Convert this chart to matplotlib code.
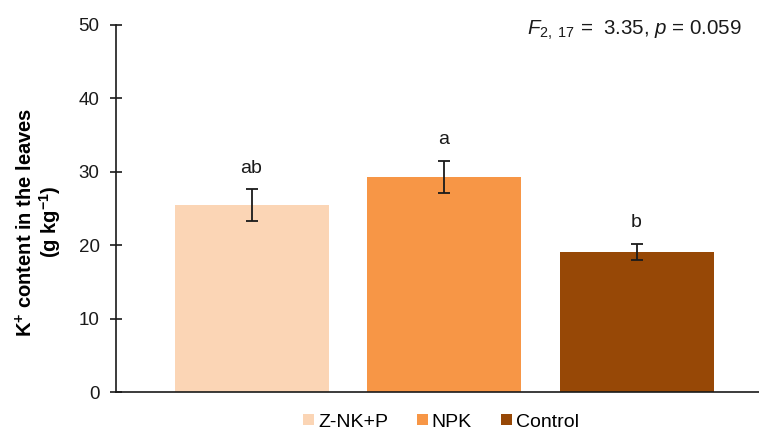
import matplotlib
matplotlib.use("Agg")
import matplotlib.pyplot as plt

plt.rcParams['font.family'] = ['Liberation Sans', 'DejaVu Sans']
plt.rcParams['mathtext.fontset'] = 'custom'
plt.rcParams['mathtext.rm'] = 'Liberation Sans'
plt.rcParams['mathtext.it'] = 'Liberation Sans:italic'
plt.rcParams['mathtext.bf'] = 'Liberation Sans:bold'

# Leaf potassium content by treatment
treatments = ["Z-NK+P", "NPK", "Control"]
means = [25.5, 29.3, 19.1]
errors = [2.15, 2.2, 1.1]
letters = ["ab", "a", "b"]
colors = ["#FBD5B5", "#F79646", "#974806"]

fig = plt.figure(figsize=(7.59, 4.30), dpi=100)
ax = fig.add_axes([116 / 759, 37.7 / 430, 643 / 759, 367.6 / 430])

x = list(range(len(treatments)))
bars = ax.bar(x, means, width=0.8, color=colors, label=treatments, zorder=2)
ax.errorbar(x, means, yerr=errors, fmt='none', ecolor='#1a1a1a',
            elinewidth=1.3, capsize=4, capthick=1.3, zorder=3)

for xi, m, e, lt in zip(x, means, errors, letters):
    ax.annotate(lt, xy=(xi, m + e), xytext=(0, 9), textcoords='offset points',
                ha='center', va='bottom', fontsize=14, color='#1a1a1a')

ax.set_xlim(-0.704, 2.636)
ax.set_ylim(0, 50)
ax.set_yticks([0, 10, 20, 30, 40, 50])
ax.set_xticks([])
ax.tick_params(axis='y', direction='inout', length=8.5, width=1.2, labelsize=13.5,
               pad=7.5, colors='#1a1a1a')
for side in ['top', 'right']:
    ax.spines[side].set_visible(False)
ax.spines['left'].set_linewidth(1.2)
ax.spines['bottom'].set_linewidth(1.2)
ax.spines['left'].set_color('#1a1a1a')
ax.spines['bottom'].set_color('#1a1a1a')

ax.set_ylabel("K$^{\\mathbf{+}}$ content in the leaves\n(g kg$^{\\mathbf{-1}}$)",
              fontsize=14.5, fontweight='bold', linespacing=1.05)
ax.yaxis.set_label_coords(-0.082, 0.463)

ax.text(0.973, 0.985, r"$\it{F}_{2,\ 17}$ =  3.35, $\it{p}$ = 0.059",
        transform=ax.transAxes, ha='right', va='center', fontsize=14.8,
        color='#1a1a1a')

fig.legend(handles=bars, labels=treatments, loc='center', ncol=3,
           bbox_to_anchor=(0.581, 0.0186), frameon=False, fontsize=14,
           handlelength=0.55, handleheight=0.55, handletextpad=0.2,
           columnspacing=1.5, borderaxespad=0)

fig.savefig("out.png", dpi=100)
